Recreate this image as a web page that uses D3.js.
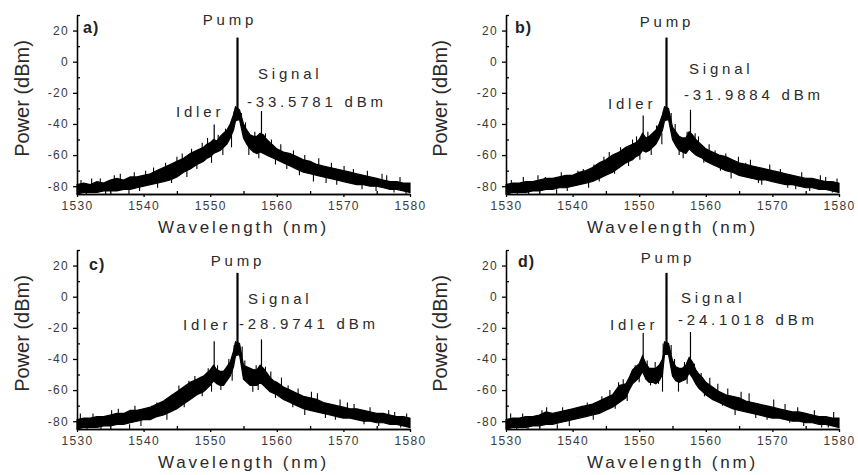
<html>
<head>
<meta charset="utf-8">
<script src="https://d3js.org/d3.v7.min.js"></script>
<style>
body { margin: 0; background: white; }
svg { display: block; }
text { font-family: "Liberation Sans", Arial, sans-serif; fill: #2a2a2a; }
.tick text { font-size: 12px; letter-spacing: 1.3px; fill: #3a3a3a; }
.axis path, .axis line { stroke: black; stroke-width: 1.3; }
.band { fill: black; stroke: black; stroke-width: 1.2; stroke-linejoin: miter; }
.spike { stroke: black; stroke-width: 1.1; }
.note { font-size: 15px; letter-spacing: 3.8px; }
.xlab { font-size: 17px; letter-spacing: 2.8px; }
.ylab { font-size: 20px; }
.tag { font-size: 16px; font-weight: bold; letter-spacing: 1px; fill: #222; }
</style>
</head>
<body>
<svg width="858" height="475"></svg>
<script>

// wavelength grid (nm) shared by all four spectra
var wl = [1530,1531,1532,1533,1534,1535,1536,1537,1538,1539,1540,1541,1542,1543,1544,1545,1546,1547,
  1548,1548.5,1549,1549.5,1550,1550.5,1551,1551.5,1552,1552.5,1553,1553.5,1553.8,1554.4,
  1555,1555.5,1556,1556.5,1557,1557.5,1558,1558.5,1559,1559.5,1560,
  1561,1562,1563,1564,1565,1566,1567,1568,1569,1570,1571,1572,1573,1574,1575,1576,1577,1578,1579,1580];

// upper / lower edge of the noise band (dBm)
var hiA = [-79,-78,-79,-77,-78,-76,-75,-76,-74,-74,-73,-72,-70,-68,-66,-64,-62,-59,
  -57,-56,-55,-53,-52,-50,-51,-48,-46,-44,-40,-34,-29,-31,
  -40,-44,-47,-48,-48,-46,-47,-50,-52,-54,-56,
  -58,-59,-61,-63,-64,-66,-67,-68,-69,-70,-71,-72,-73,-74,-75,-76,-77,-77,-78,-78];
var loA = [-85,-84,-84,-84,-83,-83,-83,-82,-82,-81,-80,-79,-78,-77,-76,-74,-71,-69,
  -66,-65,-64,-62,-61,-59,-58,-57,-55,-53,-49,-44,-38,-37,
  -49,-53,-56,-58,-59,-58,-59,-60,-61,-62,-63,
  -65,-67,-69,-71,-72,-73,-74,-75,-76,-77,-78,-79,-79,-80,-80,-81,-82,-82,-83,-84];

var hiB = [-79,-78,-78,-77,-77,-76,-75,-75,-74,-73,-73,-71,-70,-68,-65,-63,-60,-58,
  -55,-54,-53,-52,-50,-46,-49,-48,-46,-44,-40,-34,-29,-30,
  -42,-45,-48,-49,-49,-45,-47,-50,-52,-54,-56,
  -58,-60,-61,-63,-65,-66,-67,-68,-69,-70,-71,-72,-73,-74,-75,-75,-76,-77,-77,-78];
var loB = [-85,-84,-84,-84,-83,-83,-82,-82,-81,-81,-80,-79,-78,-77,-75,-73,-71,-68,
  -65,-64,-63,-61,-60,-57,-58,-57,-55,-53,-49,-44,-38,-37,
  -50,-54,-57,-58,-59,-56,-58,-60,-61,-62,-64,
  -66,-68,-70,-71,-73,-74,-75,-76,-76,-77,-78,-79,-79,-80,-81,-81,-82,-82,-83,-84];

var hiC = [-79,-78,-78,-77,-77,-76,-75,-75,-73,-73,-72,-71,-69,-67,-64,-61,-58,-55,
  -53,-52,-51,-49,-47,-44,-47,-48,-48,-45,-42,-35,-29,-30,
  -44,-45,-46,-47,-47,-44,-46,-49,-52,-54,-55,
  -58,-60,-62,-64,-65,-66,-68,-69,-70,-71,-72,-72,-73,-74,-75,-75,-76,-77,-77,-78];
var loC = [-85,-84,-84,-84,-83,-83,-82,-82,-81,-80,-79,-79,-77,-76,-74,-72,-69,-66,
  -63,-62,-61,-59,-57,-54,-56,-57,-57,-54,-51,-45,-38,-37,
  -53,-55,-57,-57,-57,-55,-57,-59,-61,-62,-63,
  -66,-68,-70,-72,-73,-74,-75,-76,-77,-78,-78,-79,-80,-80,-81,-81,-82,-82,-83,-84];

var hiD = [-79,-78,-78,-77,-77,-76,-74,-75,-74,-73,-72,-71,-70,-69,-67,-65,-63,-57,
  -56,-52,-47,-45,-43,-38,-43,-46,-46,-46,-44,-40,-29,-30,
  -41,-45,-46,-46,-44,-39,-42,-47,-50,-52,-55,
  -58,-61,-63,-64,-65,-67,-68,-69,-70,-71,-72,-73,-74,-74,-75,-76,-77,-77,-78,-78];
var loD = [-85,-84,-84,-84,-83,-83,-82,-82,-81,-80,-79,-78,-77,-76,-75,-73,-71,-68,
  -65,-60,-56,-54,-52,-48,-53,-55,-55,-56,-54,-50,-37,-37,
  -51,-54,-55,-54,-53,-49,-52,-56,-59,-61,-63,
  -66,-68,-70,-72,-73,-74,-75,-76,-77,-78,-78,-79,-80,-80,-81,-81,-82,-82,-83,-84];

// narrow lines: [wavelength, from dBm, to dBm] -> idler, pump, signal
var peaksA = [[1550.6, -55, -40.3], [1554.1, -32, 15.5], [1557.7, -54, -31.7]];
var peaksB = [[1550.6, -54, -34.5], [1554.1, -32, 15.5], [1557.7, -52, -30.9]];
var peaksC = [[1550.6, -52, -28.7], [1554.1, -32, 15.3], [1557.7, -52, -27.4]];
var peaksD = [[1550.6, -46, -23.4], [1554.1, -32, 15.3], [1557.7, -46, -22.7]];

// single noise spikes sticking out of the band: [wavelength, from, to]
var spikesA = [[1530.6,-81,-76],[1531.4,-82,-85],[1532.2,-81,-75],[1533.5,-80,-75],[1534.3,-81,-85],
  [1535.6,-79,-73],[1536.5,-79,-72],[1537.8,-82,-85],[1538.6,-78,-71],[1539.4,-79,-83],[1540.3,-77,-70],
  [1541.5,-75,-68],[1542.1,-77,-81],[1543.3,-72,-65],[1544.2,-74,-78],[1545.0,-69,-61],[1545.8,-66,-59],
  [1546.5,-70,-74],[1547.2,-63,-56],[1548.0,-65,-69],[1548.8,-58,-52],[1549.6,-56,-49],[1550.2,-60,-65],
  [1551.2,-53,-47],[1551.9,-55,-60],[1552.3,-50,-43],[1553.2,-47,-55],[1553.6,-38,-32],[1554.7,-38,-33],
  [1555.3,-46,-39],[1555.8,-53,-60],[1556.7,-52,-45],[1557.3,-56,-62],[1558.3,-53,-46],[1559.2,-57,-50],
  [1559.8,-62,-66],[1560.6,-60,-53],[1561.5,-65,-69],[1562.5,-63,-57],[1563.4,-68,-73],[1564.2,-66,-60],
  [1565.5,-71,-77],[1566.3,-69,-62],[1567.4,-73,-78],[1568.2,-71,-65],[1569,-75,-79],[1570.1,-73,-67],
  [1571.5,-75,-69],[1572.8,-78,-82],[1573.6,-76,-70],[1574.9,-79,-83],[1575.8,-77,-72],[1576.5,-78,-73],
  [1577.6,-80,-84],[1578.5,-79,-74],[1579.4,-82,-85]];
var spikesB = [[1530.8,-81,-76],[1531.7,-82,-85],[1532.6,-80,-74],[1533.4,-81,-85],[1534.8,-79,-73],
  [1535.9,-80,-74],[1537.6,-82,-85],[1538.3,-78,-71],[1539.2,-79,-83],[1540.8,-76,-70],[1541.6,-75,-69],
  [1542.4,-77,-81],[1543.2,-72,-66],[1544.0,-72,-77],[1544.7,-68,-61],[1545.5,-65,-58],[1546.3,-67,-72],
  [1547.2,-61,-55],[1548.4,-63,-67],[1549.0,-57,-50],[1549.6,-55,-48],[1550.1,-58,-63],[1551.3,-52,-45],
  [1551.8,-55,-60],[1552.6,-48,-41],[1553.4,-46,-53],[1553.6,-38,-32],[1554.8,-39,-33],[1555.4,-47,-40],
  [1556.0,-54,-60],[1556.6,-55,-62],[1557.2,-51,-45],[1558.4,-53,-46],[1558.9,-55,-48],[1559.7,-61,-65],
  [1560.5,-60,-53],[1561.4,-63,-57],[1562.2,-66,-70],[1563.0,-65,-59],[1563.8,-69,-75],[1564.9,-68,-61],
  [1566.0,-71,-65],[1566.7,-71,-63],[1567.9,-74,-78],[1568.4,-74,-79],[1569.6,-72,-66],[1571.2,-76,-69],
  [1572.3,-77,-81],[1573.5,-78,-82],[1574.4,-76,-71],[1575.6,-79,-83],[1577.2,-79,-73],[1578.0,-78,-74],
  [1579,-81,-84],[1579.7,-80,-75]];
var spikesC = [[1530.5,-81,-75],[1531.5,-82,-85],[1532.4,-80,-75],[1533.6,-81,-85],[1535.2,-79,-73],
  [1536.2,-79,-72],[1537.9,-82,-85],[1538.7,-77,-70],[1539.6,-79,-83],[1541.2,-76,-70],[1542.0,-74,-68],
  [1543.5,-75,-79],[1544.3,-70,-63],[1545.3,-64,-57],[1546.1,-66,-71],[1546.8,-61,-54],[1547.7,-58,-51],
  [1548.8,-60,-64],[1549.7,-54,-46],[1550.2,-56,-61],[1551.1,-50,-44],[1551.6,-55,-60],[1552.8,-47,-40],
  [1553.3,-47,-54],[1553.6,-38,-31],[1554.8,-39,-32],[1555.2,-48,-41],[1556.4,-55,-61],[1556.9,-51,-44],
  [1557.2,-55,-60],[1558.3,-52,-45],[1559.1,-55,-48],[1559.8,-60,-65],[1560.7,-59,-52],[1561.7,-63,-57],
  [1562.4,-67,-71],[1563.2,-65,-59],[1564.2,-70,-76],[1565.2,-67,-61],[1566.1,-70,-62],[1567.3,-74,-78],
  [1568.8,-74,-79],[1569.5,-72,-66],[1570.6,-74,-68],[1571.6,-76,-69],[1573.1,-78,-82],[1574.0,-76,-71],
  [1575.3,-79,-83],[1576.8,-79,-73],[1577.7,-78,-74],[1578.6,-81,-84],[1579.5,-80,-75]];
var spikesD = [[1530.7,-81,-75],[1531.6,-82,-85],[1532.5,-80,-75],[1533.3,-81,-85],[1535.4,-79,-73],
  [1536.1,-78,-71],[1537.7,-82,-85],[1538.5,-77,-71],[1539.5,-79,-83],[1541.4,-76,-70],[1542.2,-74,-68],
  [1543.1,-75,-79],[1544.4,-70,-64],[1545.6,-67,-60],[1546.4,-68,-72],[1546.9,-64,-55],[1547.6,-60,-53],
  [1548.2,-62,-67],[1549.4,-52,-44],[1550.0,-50,-55],[1551.2,-47,-41],[1551.7,-52,-57],[1552.4,-49,-42],
  [1552.9,-50,-56],[1553.5,-48,-61],[1553.6,-36,-30],[1554.8,-37,-31],[1555.3,-48,-40],[1555.9,-52,-61],
  [1556.8,-50,-42],[1557.2,-50,-56],[1558.3,-49,-43],[1559.3,-56,-49],[1559.8,-59,-64],[1560.6,-59,-52],
  [1561.8,-63,-56],[1562.5,-66,-70],[1563.3,-65,-59],[1564.4,-70,-76],[1565.3,-68,-61],[1566.5,-70,-62],
  [1567.5,-73,-78],[1569.2,-74,-79],[1570.2,-72,-66],[1571.9,-76,-69],[1572.6,-77,-81],[1573.8,-76,-71],
  [1574.7,-79,-83],[1576.3,-79,-73],[1577.4,-80,-84],[1578.4,-81,-84],[1579.2,-79,-74]];

var panelTags = ["a)", "b)", "c)", "d)"];
var signalLevels = ["-33.5781 dBm", "-31.9884 dBm", "-28.9741 dBm", "-24.1018 dBm"];
var xTicks = [1530, 1540, 1550, 1560, 1570, 1580];
var xMinor = [1535, 1545, 1555, 1565, 1575];
var yTicks = [-80, -60, -40, -20, 0, 20];
var yMinor = [-70, -50, -30, -10, 10, 30];

var his = [hiA, hiB, hiC, hiD];
var los = [loA, loB, loC, loD];
var peaks = [peaksA, peaksB, peaksC, peaksD];
var spikes = [spikesA, spikesB, spikesC, spikesD];

var w = 333, h = 179;
var origins = [[77, 15], [506, 15], [77, 250], [506, 250]];
// label offsets inside each panel (px)
var notes = [
  {tag: [6, 18], pump: [153, 10], signal: [181, 64], level: [170, 92], idler: [99, 102], ylab: -48},
  {tag: [9, 18], pump: [161, 12], signal: [183, 59], level: [178, 85], idler: [102, 94], ylab: -59},
  {tag: [12, 20], pump: [161, 16], signal: [171, 54], level: [162, 79], idler: [106, 80], ylab: -48},
  {tag: [12, 17], pump: [162, 13], signal: [175, 53], level: [172, 75], idler: [104, 80], ylab: -59}
];

var x = d3.scaleLinear().domain([1530, 1580]).range([0, w]);
var y = d3.scaleLinear().domain([-85, 30]).range([h, 0]);

var svg = d3.select("svg");

origins.forEach(function(o, p) {
  var g = svg.append("g").attr("transform", "translate(" + o[0] + "," + o[1] + ")");

  var area = d3.area()
    .x(function(d, i) { return x(wl[i]); })
    .y0(function(d, i) { return y(los[p][i]); })
    .y1(function(d, i) { return y(his[p][i]); });

  g.append("path").attr("class", "band").attr("d", area(wl));

  g.selectAll(".spike").data(spikes[p]).enter().append("line")
    .attr("class", "spike")
    .attr("x1", function(d) { return x(d[0]); })
    .attr("x2", function(d) { return x(d[0]); })
    .attr("y1", function(d) { return y(d[1]); })
    .attr("y2", function(d) { return y(d[2]); });

  g.selectAll(".peak").data(peaks[p]).enter().append("line")
    .attr("class", "peak")
    .attr("stroke", "black")
    .attr("stroke-width", function(d, i) { return i == 1 ? 2.2 : 1.2; })
    .attr("x1", function(d) { return x(d[0]); })
    .attr("x2", function(d) { return x(d[0]); })
    .attr("y1", function(d) { return y(d[1]); })
    .attr("y2", function(d) { return y(d[2]); });

  // axes: major ticks outside, minor ticks inside
  g.append("g").attr("class", "axis")
    .call(d3.axisLeft(y).tickValues(yTicks).tickSize(4).tickSizeOuter(0).tickPadding(4)
      .tickFormat(function(d) { return String(d); }));
  g.append("g").attr("class", "axis")
    .call(d3.axisRight(y).tickValues(yMinor).tickSize(3).tickSizeOuter(0).tickFormat(""));
  g.append("g").attr("class", "axis").attr("transform", "translate(0," + h + ")")
    .call(d3.axisBottom(x).tickValues(xTicks).tickSize(3).tickSizeOuter(0).tickPadding(4)
      .tickFormat(d3.format("d")));
  g.append("g").attr("class", "axis").attr("transform", "translate(0," + h + ")")
    .call(d3.axisTop(x).tickValues(xMinor).tickSize(3).tickSizeOuter(0).tickFormat(""));
  g.selectAll(".tick text").attr("font-family", null).attr("font-size", null);

  var n = notes[p];
  g.append("text").attr("class", "tag").attr("x", n.tag[0]).attr("y", n.tag[1]).text(panelTags[p]);
  g.append("text").attr("class", "note").attr("x", n.pump[0]).attr("y", n.pump[1])
    .attr("text-anchor", "middle").text("Pump");
  g.append("text").attr("class", "note").attr("x", n.signal[0]).attr("y", n.signal[1]).text("Signal");
  g.append("text").attr("class", "note").attr("x", n.level[0]).attr("y", n.level[1]).text(signalLevels[p]);
  g.append("text").attr("class", "note").attr("x", n.idler[0]).attr("y", n.idler[1]).text("Idler");

  g.append("text").attr("class", "xlab")
    .attr("x", w / 2).attr("y", h + 39)
    .attr("text-anchor", "middle")
    .text("Wavelength (nm)");
  g.append("text").attr("class", "ylab")
    .attr("transform", "translate(" + n.ylab + "," + (h / 2 - 6) + ") rotate(-90)")
    .attr("text-anchor", "middle")
    .text("Power (dBm)");
});

</script>
</body>
</html>
